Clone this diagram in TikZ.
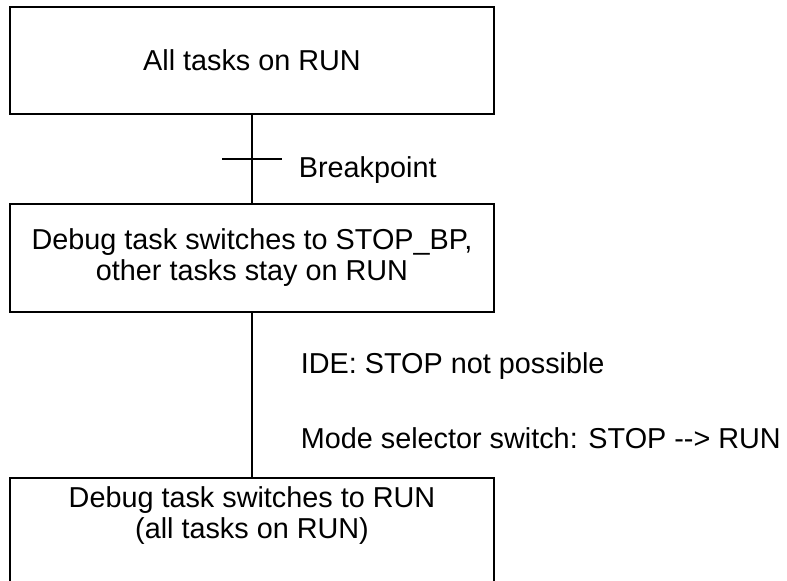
\documentclass[tikz,border=0pt]{standalone}
\usepackage{fontspec}
\setmainfont{Liberation Sans}
\usetikzlibrary{positioning,calc}
\begin{document}
\begin{tikzpicture}[x=0.5pt,y=-0.5pt,line width=0.9pt,
  box/.style={draw,rectangle,minimum width=242pt,inner sep=0pt,align=center,font=\fontsize{14.4}{15.5}\selectfont},
  lbl/.style={anchor=base west,inner sep=0pt,font=\fontsize{14.4}{15.5}\selectfont}]
\path[use as bounding box,clip](0,0)rectangle(787,580);
% states
\node[box,minimum height=53.5pt] (top) at (252,60.5) {All tasks on RUN};
\node[box,minimum height=54pt] (mid) at (252,258) {Debug task switches to STOP\_BP,\\other tasks stay on RUN};
\node[box,minimum height=62pt,anchor=north] (bot) at (252,477) {};
\node[align=center,inner sep=0pt,font=\fontsize{14.4}{15.5}\selectfont] (bottxt) at (252,516) {Debug task switches to RUN\\(all tasks on RUN)};
% transitions
\draw (top) -- (mid);
\draw (mid) -- (bot);
\coordinate (bp) at ($(top.south)!.5!(mid.north)$);
\draw ([xshift=-15pt]bp) -- ([xshift=15pt]bp);
\node[lbl] (bplbl) at (298,177) {Breakpoint};
\node[lbl] (ide) at (300,373) {IDE: STOP not possible};
\node[lbl] (mode) at (300,448) {Mode selector switch: STOP -{}-> RUN};
\end{tikzpicture}
\end{document}
